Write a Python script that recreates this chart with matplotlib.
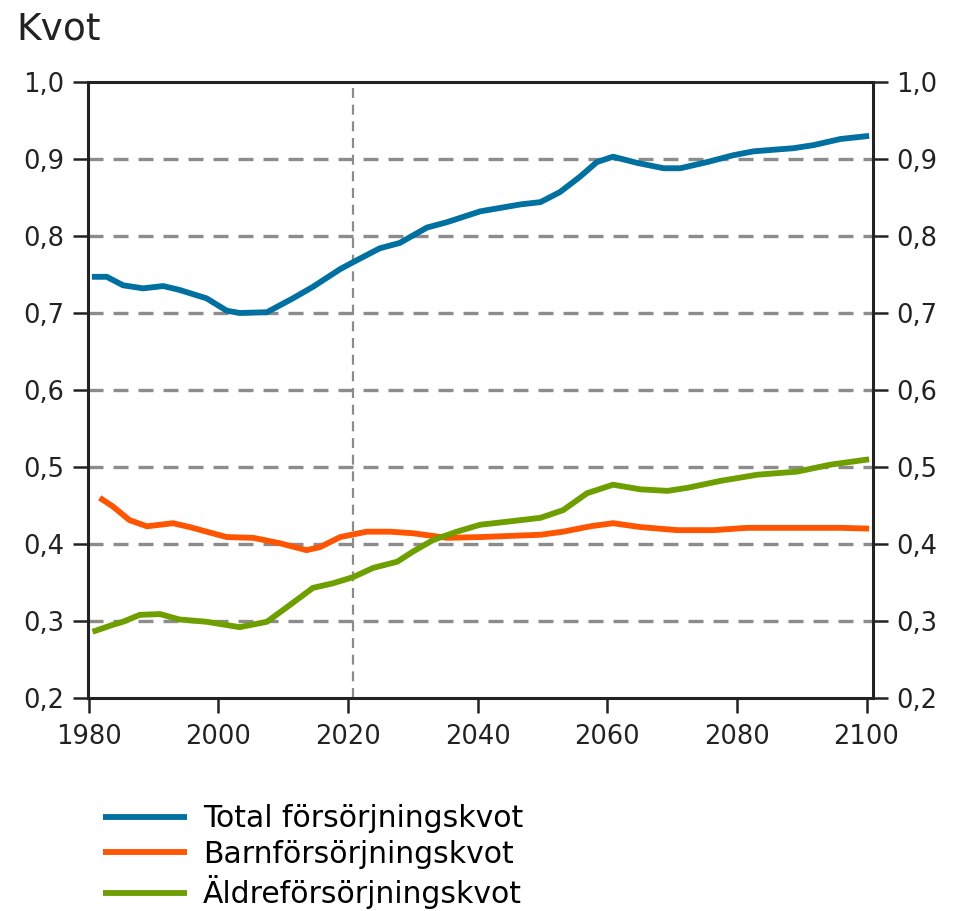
import matplotlib
matplotlib.use("Agg")
import matplotlib.pyplot as plt

# Data
total_years = [1980.5, 1982.8, 1985.3, 1988.4, 1991.5, 1994, 1998.2, 2001.3, 2003.3,
               2007.5, 2011.5, 2014.6, 2018.8, 2020.8, 2024.9, 2028, 2032.2, 2035.3,
               2040.4, 2046.6, 2049.7, 2052.7, 2055.8, 2058.4, 2060.9, 2064.6, 2068.7,
               2071.3, 2075.4, 2079.5, 2082.6, 2088.7, 2091.8, 2096, 2100.4]
total_vals = [0.747, 0.747, 0.736, 0.732, 0.735, 0.730, 0.719, 0.703, 0.700,
              0.701, 0.719, 0.734, 0.757, 0.766, 0.784, 0.791, 0.811, 0.818,
              0.832, 0.841, 0.844, 0.857, 0.877, 0.896, 0.903, 0.895, 0.888,
              0.888, 0.896, 0.905, 0.910, 0.914, 0.918, 0.926, 0.930]

barn_years = [1981.7, 1983.7, 1986.3, 1989, 1993, 1995.6, 1998.2, 2001.3, 2005.4,
              2009.5, 2013.6, 2015.7, 2018.8, 2022.9, 2026.5, 2030, 2035.3, 2040.4,
              2049.7, 2053.2, 2057.4, 2060.9, 2065.1, 2070.8, 2076.4, 2081.6, 2089.3,
              2096, 2100.4]
barn_vals = [0.460, 0.449, 0.431, 0.423, 0.427, 0.422, 0.416, 0.409, 0.408,
             0.401, 0.392, 0.396, 0.409, 0.416, 0.416, 0.414, 0.408, 0.409,
             0.412, 0.416, 0.423, 0.427, 0.422, 0.418, 0.418, 0.421, 0.421,
             0.421, 0.420]

aldre_years = [1980.6, 1983.7, 1985.3, 1987.9, 1991, 1994, 1998.2, 2003.3, 2007.5,
               2010.6, 2014.6, 2017.7, 2020.8, 2023.9, 2027.6, 2030, 2033.1, 2036.8,
               2040.4, 2044.6, 2049.7, 2053.2, 2056.9, 2060.9, 2065.1, 2069.3, 2072.4,
               2077.5, 2083.2, 2089.3, 2094.4, 2100.4]
aldre_vals = [0.286, 0.295, 0.299, 0.308, 0.309, 0.302, 0.299, 0.292, 0.299,
              0.318, 0.343, 0.349, 0.357, 0.369, 0.377, 0.390, 0.405, 0.416,
              0.425, 0.429, 0.434, 0.444, 0.466, 0.477, 0.471, 0.469, 0.473,
              0.482, 0.490, 0.494, 0.503, 0.510]

x_ticks = [1980, 2000, 2020, 2040, 2060, 2080, 2100]
y_ticks = [0.2, 0.3, 0.4, 0.5, 0.6, 0.7, 0.8, 0.9, 1.0]
y_labels = ["0,2", "0,3", "0,4", "0,5", "0,6", "0,7", "0,8", "0,9", "1,0"]

fig = plt.figure(figsize=(9.55, 9.11), dpi=100)
ax = fig.add_axes([88 / 955, 1 - 698 / 911, (873 - 88) / 955, (698 - 82) / 911])

# Streckade stödlinjer
for v in y_ticks[1:-1]:
    ax.axhline(v, color="#8c8c8c", lw=2.4, dashes=(4.5, 3), zorder=1)
ax.axvline(2020.8, color="#8c8c8c", lw=1.6, dashes=(4.5, 3), zorder=1)

ax.plot(total_years, total_vals, color="#0070a0", lw=4.2, solid_capstyle="butt",
        solid_joinstyle="round", label="Total försörjningskvot", zorder=3)
ax.plot(barn_years, barn_vals, color="#ff5400", lw=4.2, solid_capstyle="butt",
        solid_joinstyle="round", label="Barnförsörjningskvot", zorder=3)
ax.plot(aldre_years, aldre_vals, color="#6e9e00", lw=4.2, solid_capstyle="butt",
        solid_joinstyle="round", label="Äldreförsörjningskvot", zorder=3)

ax.set_xlim(1979.9, 2101)
ax.set_ylim(0.2, 1.0)
ax.set_xticks(x_ticks)
ax.set_yticks(y_ticks)
ax.set_yticklabels(y_labels)

for s in ax.spines.values():
    s.set_linewidth(2.2)
    s.set_color("#222222")

ax.tick_params(axis="both", direction="out", length=11, width=1.8, color="#222222",
               labelsize=18.5, labelcolor="#222222")
ax.tick_params(axis="x", pad=8)
ax.tick_params(axis="y", pad=6, right=True, labelright=True)

fig.text(16 / 955, 1 - 30 / 911, "Kvot", fontsize=27, va="center", ha="left",
         color="#222222")

fig.legend(loc="upper left", bbox_to_anchor=(103 / 955, 1 - 804 / 911),
           frameon=False, fontsize=21.5, handlelength=2.8, handletextpad=0.55,
           labelspacing=0.22, borderpad=0, borderaxespad=0)

fig.savefig("out.png", dpi=100)
